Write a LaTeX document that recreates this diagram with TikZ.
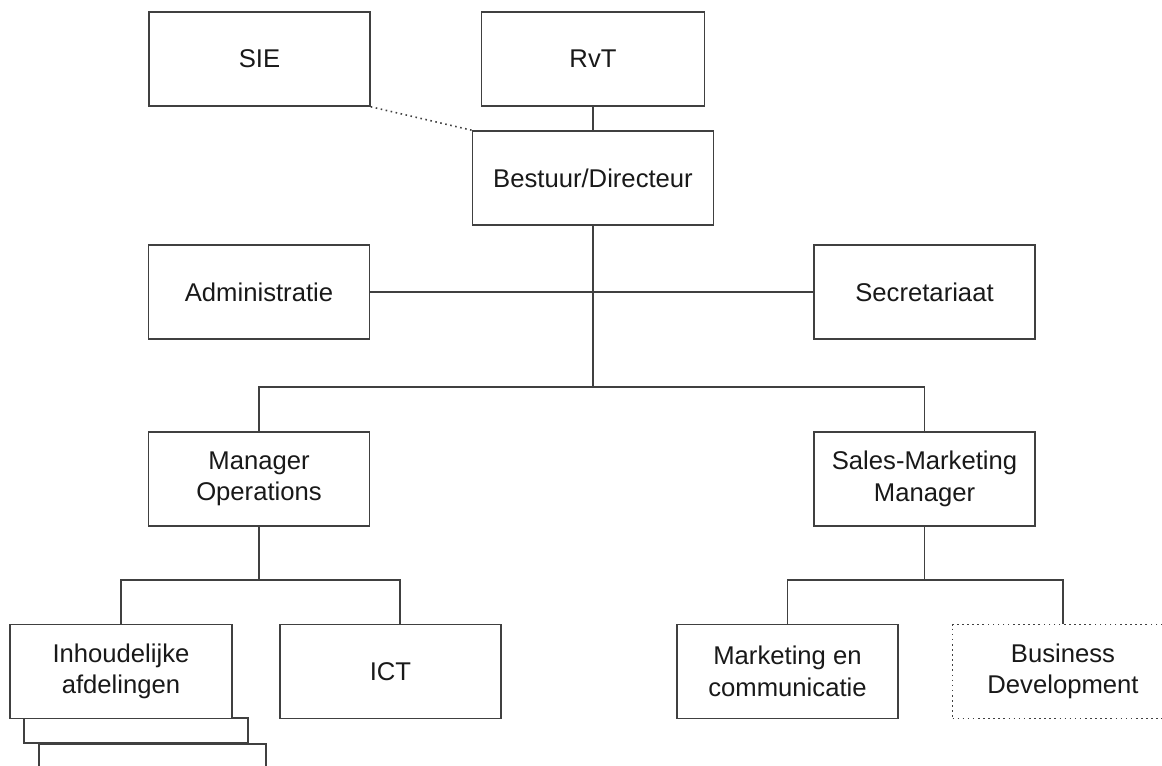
\documentclass[tikz,border=0pt]{standalone}
\usepackage{fontspec}
\setmainfont{Liberation Sans}
\definecolor{lc}{gray}{0.25}
\definecolor{tc}{gray}{0.1}
\begin{document}
\begin{tikzpicture}[x=0.02cm,y=-0.02cm,
  box/.style={draw=lc, line width=0.9pt, fill=white, minimum width=4.42cm, minimum height=1.88cm,
    inner sep=0pt, align=center, text=tc, font=\fontsize{14.6}{18}\selectfont},
  conn/.style={draw=lc, line width=0.9pt},
  dotconn/.style={draw=lc, line width=0.9pt, dotted},
]
\useasboundingbox (0,0) rectangle (1162,765);
\clip (0,0) rectangle (1162,765);
% top level
\node[box] (sie) at (259.5,59) {SIE};
\node[box, minimum width=4.46cm] (rvt) at (593,59) {RvT};
\node[box, minimum width=4.82cm] (bestuur) at (593,178) {Bestuur/Directeur};
\node[box] (adm) at (259,292) {Administratie};
\node[box] (sec) at (924.5,292) {Secretariaat};
\node[box] (mo) at (259,479) {Manager\\Operations};
\node[box] (smm) at (924.5,479) {Sales-Marketing\\Manager};
% stacked boxes
\node[box, minimum width=4.54cm, minimum height=1.12cm] (stackb) at (152.5,772) {};
\node[box, minimum width=4.48cm, minimum height=0.5cm] (stacka) at (136,730.5) {};
\node[box, minimum width=4.44cm] (inh) at (121,671.5) {Inhoudelijke\\afdelingen};
\node[box] (ict) at (390.5,671.5) {ICT};
\node[box] (mec) at (787.5,671.5) {Marketing en\\communicatie};
\node[box, dotted] (bd) at (1063,671.5) {Business\\Development};
% junctions
\coordinate (j1) at (593,387);
\coordinate (j2) at (259,580);
\coordinate (j3) at (924.5,580);
% connectors
\draw[conn] (rvt.south) -- (bestuur.north);
\draw[dotconn] (sie.south east) -- (bestuur.north west);
\draw[conn] (adm.east) -- (sec.west);
\draw[conn] (bestuur.south) -- (j1);
\draw[conn] (mo.north) |- (j1) -| (smm.north);
\draw[conn] (mo.south) -- (j2);
\draw[conn] (inh.north) |- (j2) -| ([xshift=0.19cm]ict.north);
\draw[conn] (smm.south) -- (j3);
\draw[conn] (mec.north) |- (j3) -| (bd.north);
\end{tikzpicture}
\end{document}
